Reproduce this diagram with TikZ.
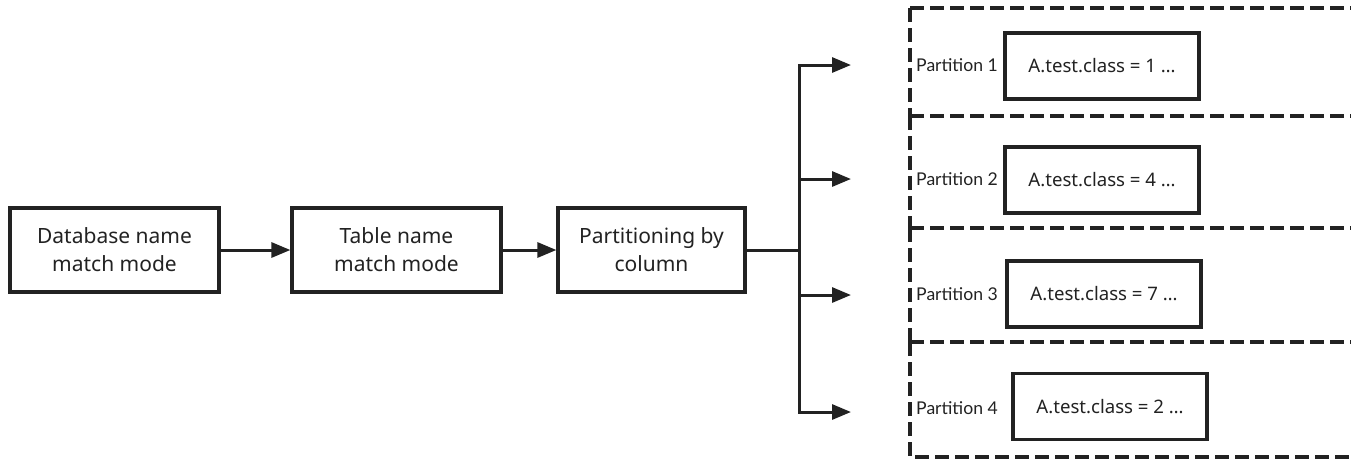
\documentclass[tikz,border=0pt]{standalone}
\usepackage{fontspec}
\setmainfont{Noto Sans}
\newfontfamily\labfont{Lato}
\usetikzlibrary{arrows.meta}
\definecolor{ink}{HTML}{222222}
\tikzset{flow/.style={-{Triangle[length=9.5pt,width=7.5pt]},line width=1.5pt,ink},
wire/.style={line width=1.5pt,ink},
stage/.style={draw=ink,line width=1.6pt,minimum height=42pt,align=center,text=ink,font=\fontsize{10.5}{14}\selectfont},
part/.style={draw=ink,line width=1.6pt,minimum width=97pt,minimum height=33pt,text=ink,font=\fontsize{9.3}{11}\selectfont},
plab/.style={text=ink,font=\labfont\fontsize{8.8}{10}\selectfont,inner sep=0pt},
region/.style={draw=ink,line width=1.7pt,dash pattern=on 7pt off 3pt}}

\begin{document}
\begin{tikzpicture}[x=0.5pt,y=-0.5pt]
\useasboundingbox (0,0) rectangle (1351,468);
% partition regions, open to the right
\draw[region] (910,8) -- (1351,8) (910,8) -- (910,116);
\draw[region] (910,116) -- (1351,116) (910,116) -- (910,228);
\draw[region] (910,228) -- (1351,228) (910,228) -- (910,342);
\draw[region] (910,342) -- (1351,342) (910,342) -- (910,457) -- (1351,457);
% pipeline
\node[stage,minimum width=104.5pt] (db) at (114.5,250) {Database name\\match mode};
\node[stage,minimum width=104.5pt] (tbl) at (396.5,250) {Table name\\match mode};
\node[stage,minimum width=93.5pt] (col) at (651.5,250) {Partitioning by\\column};
\coordinate (split) at (799,250);
\coordinate (in1) at (851,65);
\coordinate (in2) at (851,179);
\coordinate (in3) at (851,295);
\coordinate (in4) at (851,412);
\draw[flow] (db) -- (tbl);
\draw[flow] (tbl) -- (col);
\draw[wire] (col) -- (split);
\draw[flow] (split) |- (in1);
\draw[flow] (split) |- (in2);
\draw[flow] (split) |- (in3);
\draw[flow] (split) |- (in4);
% partitions
\node[plab] (lab1) at (957,65) {Partition 1};
\node[plab] (lab2) at (957,179) {Partition 2};
\node[plab] (lab3) at (957,294) {Partition 3};
\node[plab] (lab4) at (957,408) {Partition 4};
\node[part] (cls1) at (1102,66) {A.test.class = 1 …};
\node[part] (cls2) at (1102,180) {A.test.class = 4 …};
\node[part] (cls3) at (1104,294) {A.test.class = 7 …};
\node[part] (cls4) at (1110,406.5) {A.test.class = 2 …};
\end{tikzpicture}
\end{document}
